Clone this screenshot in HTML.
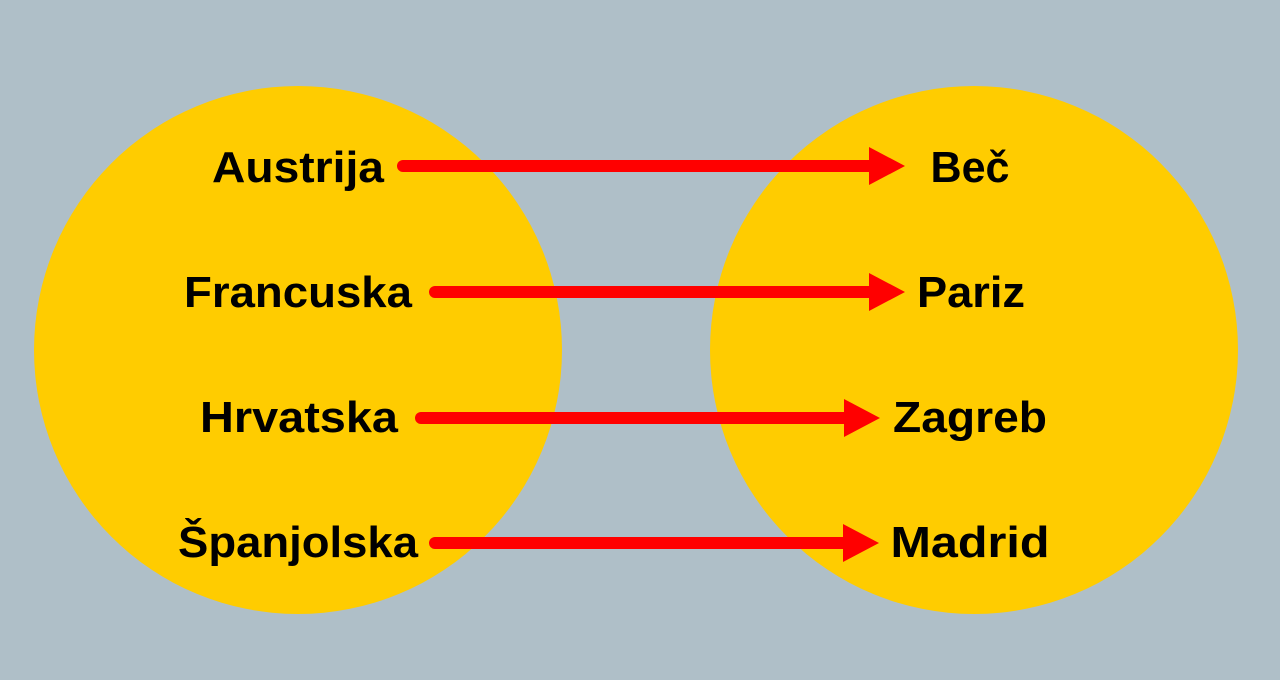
<!DOCTYPE html>
<html><head><meta charset="utf-8"><style>
html,body{margin:0;padding:0;background:#afbfc8;}
svg{display:block}
text{font-family:"Liberation Sans","DejaVu Sans",sans-serif;font-weight:bold;font-size:44px;fill:#000;}
</style></head><body>
<svg width="1280" height="680" viewBox="0 0 1280 680">
<rect width="1280" height="680" fill="#afbfc8"/>
<circle cx="298" cy="350" r="264" fill="#ffcc00"/>
<circle cx="974" cy="350" r="264" fill="#ffcc00"/>
<g text-anchor="middle" lengthAdjust="spacingAndGlyphs">
<text x="298" y="182" textLength="172" lengthAdjust="spacingAndGlyphs">Austrija</text>
<text x="298" y="307" textLength="228" lengthAdjust="spacingAndGlyphs">Francuska</text>
<text x="299" y="432" textLength="198" lengthAdjust="spacingAndGlyphs">Hrvatska</text>
<text x="298" y="557" textLength="240" lengthAdjust="spacingAndGlyphs">Španjolska</text>
<text x="970" y="182" textLength="79" lengthAdjust="spacingAndGlyphs">Beč</text>
<text x="971" y="307" textLength="108" lengthAdjust="spacingAndGlyphs">Pariz</text>
<text x="970" y="432" textLength="154" lengthAdjust="spacingAndGlyphs">Zagreb</text>
<text x="970" y="557" textLength="159" lengthAdjust="spacingAndGlyphs">Madrid</text>
</g>
<g stroke="#ff0000" stroke-width="12" stroke-linecap="round">
<line x1="403" y1="166" x2="875" y2="166"/>
<line x1="435" y1="292" x2="875" y2="292"/>
<line x1="421" y1="418" x2="850" y2="418"/>
<line x1="435" y1="543" x2="850" y2="543"/>
</g>
<g fill="#ff0000">
<polygon points="869,147 905,166 869,185"/>
<polygon points="869,273 905,292 869,311"/>
<polygon points="844,399 880,418 844,437"/>
<polygon points="843,524 879,543 843,562"/>
</g>
</svg>
</body></html>
